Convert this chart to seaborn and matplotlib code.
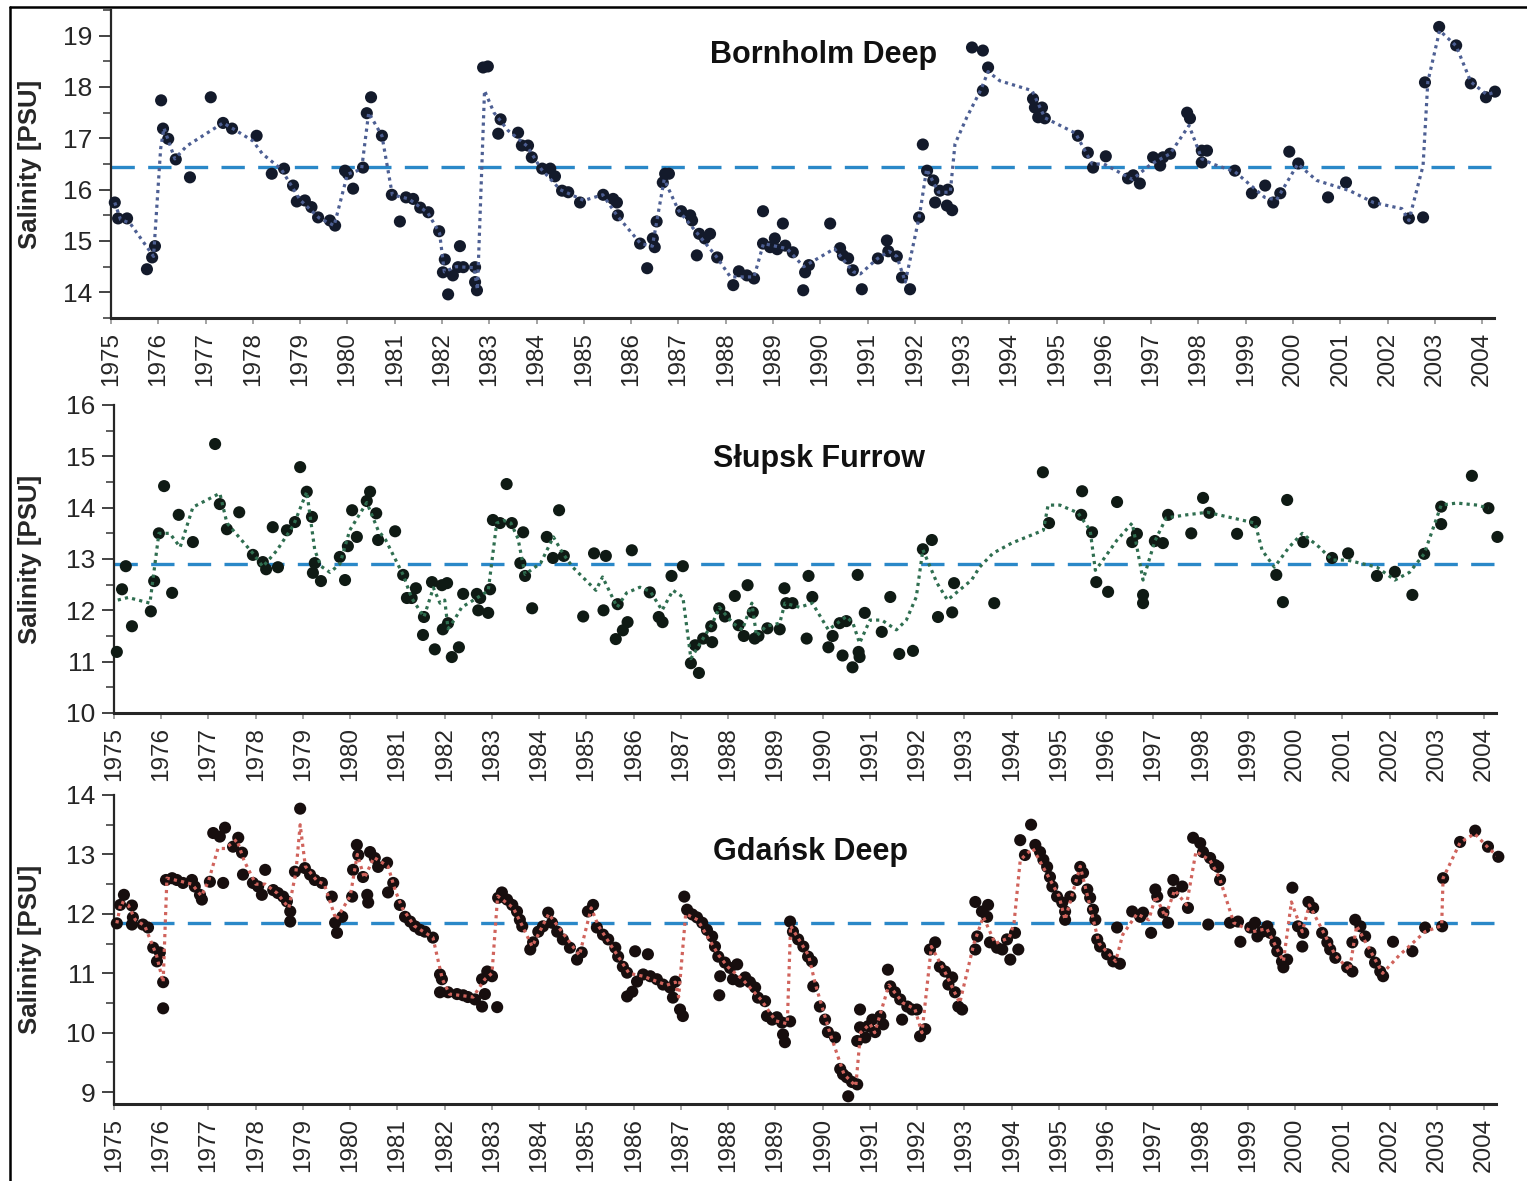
import matplotlib
matplotlib.use("Agg")
import matplotlib.pyplot as plt
import seaborn as sns
import numpy as np
from matplotlib.lines import Line2D
from matplotlib.ticker import MultipleLocator, FixedLocator

sns.set_style("ticks")
plt.rcParams['font.family'] = ['Liberation Sans', 'DejaVu Sans']

# ---------------- data ----------------
years = list(range(1975, 2005))
year_labels = [str(y) for y in years]

# Bornholm Deep
bd_title = "Bornholm Deep"
bd_mean = 16.45
bd_t = [1975.08, 1975.15, 1975.34, 1975.76, 1975.87, 1975.93, 1976.06, 1976.10, 1976.21, 1976.37,
        1976.67, 1977.11, 1977.37, 1977.56, 1978.08, 1978.40, 1978.66, 1978.85, 1978.93, 1979.10,
        1979.24, 1979.38, 1979.63, 1979.74, 1979.95, 1980.01, 1980.12, 1980.33, 1980.41, 1980.50,
        1980.73, 1980.94, 1981.11, 1981.24, 1981.39, 1981.54, 1981.71, 1981.94, 1982.02, 1982.06,
        1982.13, 1982.23, 1982.34, 1982.38, 1982.45, 1982.70, 1982.70, 1982.74, 1982.87, 1982.97,
        1983.19, 1983.24, 1983.61, 1983.69, 1983.82, 1983.90, 1984.12, 1984.29, 1984.39, 1984.54,
        1984.67, 1984.92, 1985.41, 1985.62, 1985.70, 1985.72, 1986.19, 1986.34, 1986.46, 1986.50,
        1986.54, 1986.67, 1986.72, 1986.80, 1987.06, 1987.25, 1987.29, 1987.39, 1987.44, 1987.56,
        1987.67, 1987.82, 1988.16, 1988.28, 1988.45, 1988.60, 1988.79, 1988.79, 1988.94, 1989.04,
        1989.09, 1989.21, 1989.26, 1989.42, 1989.64, 1989.68, 1989.76, 1990.21, 1990.42, 1990.48,
        1990.59, 1990.69, 1990.88, 1991.22, 1991.41, 1991.44, 1991.62, 1991.73, 1991.90, 1992.09,
        1992.17, 1992.26, 1992.39, 1992.43, 1992.53, 1992.68, 1992.70, 1992.79, 1993.21, 1993.44,
        1993.44, 1993.55, 1994.50, 1994.54, 1994.61, 1994.69, 1994.75, 1995.45, 1995.66, 1995.77,
        1996.04, 1996.51, 1996.62, 1996.76, 1997.04, 1997.19, 1997.25, 1997.40, 1997.76, 1997.82,
        1998.07, 1998.07, 1998.18, 1998.77, 1999.13, 1999.41, 1999.58, 1999.73, 1999.92, 2000.11,
        2000.74, 2001.12, 2001.71, 2002.45, 2002.75, 2002.79, 2003.09, 2003.45, 2003.76, 2004.08,
        2004.27]
bd_s = [15.75, 15.44, 15.44, 14.45, 14.68, 14.90, 17.74, 17.19, 16.99, 16.59,
        16.24, 17.80, 17.30, 17.19, 17.05, 16.31, 16.41, 16.08, 15.77, 15.79,
        15.66, 15.46, 15.40, 15.30, 16.37, 16.31, 16.02, 16.43, 17.49, 17.80,
        17.05, 15.90, 15.38, 15.85, 15.82, 15.65, 15.56, 15.19, 14.39, 14.64,
        13.96, 14.33, 14.49, 14.90, 14.49, 14.49, 14.20, 14.04, 18.38, 18.40,
        17.09, 17.37, 17.11, 16.86, 16.86, 16.63, 16.41, 16.41, 16.26, 15.98,
        15.95, 15.75, 15.90, 15.82, 15.75, 15.50, 14.95, 14.47, 15.05, 14.88,
        15.38, 16.14, 16.31, 16.31, 15.58, 15.50, 15.40, 14.72, 15.14, 15.05,
        15.14, 14.68, 14.14, 14.41, 14.33, 14.27, 15.58, 14.95, 14.88, 15.05,
        14.84, 15.34, 14.91, 14.78, 14.04, 14.39, 14.53, 15.34, 14.86, 14.72,
        14.66, 14.43, 14.06, 14.66, 15.01, 14.80, 14.70, 14.29, 14.06, 15.46,
        16.88, 16.37, 16.18, 15.75, 15.98, 15.69, 16.00, 15.60, 18.77, 18.71,
        17.93, 18.38, 17.77, 17.60, 17.41, 17.60, 17.39, 17.05, 16.72, 16.43,
        16.65, 16.22, 16.28, 16.12, 16.63, 16.47, 16.63, 16.70, 17.50, 17.39,
        16.76, 16.53, 16.76, 16.37, 15.93, 16.08, 15.75, 15.93, 16.74, 16.51,
        15.85, 16.14, 15.75, 15.44, 15.46, 18.09, 19.17, 18.81, 18.07, 17.80,
        17.91]
bd_line_t = [1975.08, 1975.20, 1975.40, 1975.90, 1976.05, 1976.12, 1976.35, 1976.60, 1977.37, 1977.56,
             1978.00, 1978.20, 1978.60, 1979.00, 1979.40, 1979.72, 1980.00, 1980.30, 1980.45, 1980.73,
             1980.95, 1981.30, 1981.70, 1981.95, 1982.05, 1982.30, 1982.68, 1982.75, 1982.90, 1983.10,
             1983.40, 1983.80, 1984.10, 1984.50, 1985.00, 1985.40, 1985.70, 1986.20, 1986.45, 1986.70,
             1987.00, 1987.40, 1987.80, 1988.10, 1988.60, 1988.80, 1989.30, 1989.65, 1990.30, 1990.70,
             1990.85, 1991.20, 1991.45, 1991.62, 1991.80, 1992.10, 1992.25, 1992.50, 1992.75, 1992.85,
             1993.10, 1993.40, 1993.55, 1993.80, 1994.48, 1994.75, 1995.40, 1995.75, 1996.00, 1996.60,
             1997.00, 1997.40, 1997.80, 1998.07, 1998.30, 1998.77, 1999.40, 1999.65, 2000.10, 2000.50,
             2001.20, 2001.70, 2002.30, 2002.45, 2002.75, 2002.85, 2003.10, 2003.45, 2003.76, 2004.10,
             2004.27]
bd_line_s = [15.75, 15.42, 15.35, 14.70, 16.80, 17.20, 16.60, 16.85, 17.30, 17.20,
             16.95, 16.70, 16.40, 15.80, 15.45, 15.30, 16.30, 16.40, 17.50, 17.05,
             15.90, 15.82, 15.55, 15.15, 14.40, 14.50, 14.48, 14.05, 17.93, 17.50,
             17.15, 16.85, 16.40, 16.00, 15.79, 15.90, 15.50, 14.95, 14.90, 16.20,
             15.60, 15.15, 14.70, 14.30, 14.30, 14.95, 14.85, 14.50, 14.85, 14.40,
             14.36, 14.65, 14.80, 14.70, 14.20, 15.50, 16.40, 15.95, 15.95, 16.89,
             17.41, 17.95, 18.30, 18.12, 17.93, 17.40, 17.10, 16.50, 16.50, 16.20,
             16.50, 16.70, 17.25, 16.60, 16.50, 16.35, 15.85, 15.80, 16.50, 16.18,
             15.98, 15.75, 15.63, 15.40, 16.47, 18.10, 19.10, 18.80, 18.10, 17.85,
             17.90]

# Slupsk Furrow
sf_title = "Słupsk Furrow"
sf_mean = 12.9
sf_t = [1975.06, 1975.17, 1975.25, 1975.38, 1975.78, 1975.85, 1975.95, 1976.06, 1976.23, 1976.37,
        1976.67, 1977.14, 1977.24, 1977.39, 1977.65, 1977.94, 1978.15, 1978.22, 1978.36, 1978.47,
        1978.66, 1978.83, 1978.94, 1979.08, 1979.19, 1979.21, 1979.25, 1979.38, 1979.78, 1979.89,
        1979.95, 1980.04, 1980.14, 1980.35, 1980.42, 1980.55, 1980.59, 1980.95, 1981.12, 1981.20,
        1981.30, 1981.39, 1981.54, 1981.56, 1981.73, 1981.79, 1981.94, 1981.96, 1982.05, 1982.07,
        1982.15, 1982.30, 1982.39, 1982.68, 1982.71, 1982.75, 1982.92, 1982.96, 1983.02, 1983.17,
        1983.31, 1983.42, 1983.60, 1983.66, 1983.70, 1983.85, 1984.16, 1984.29, 1984.42, 1984.52,
        1984.93, 1985.16, 1985.36, 1985.41, 1985.62, 1985.66, 1985.77, 1985.87, 1985.96, 1986.34,
        1986.53, 1986.61, 1986.80, 1987.04, 1987.21, 1987.30, 1987.38, 1987.47, 1987.64, 1987.66,
        1987.81, 1987.93, 1988.14, 1988.22, 1988.33, 1988.41, 1988.52, 1988.56, 1988.64, 1988.83,
        1989.09, 1989.19, 1989.23, 1989.36, 1989.66, 1989.70, 1989.78, 1990.12, 1990.21, 1990.36,
        1990.42, 1990.50, 1990.63, 1990.74, 1990.76, 1990.78, 1990.89, 1991.25, 1991.43, 1991.62,
        1991.91, 1992.12, 1992.31, 1992.44, 1992.74, 1992.78, 1993.63, 1994.66, 1994.79, 1995.47,
        1995.49, 1995.70, 1995.79, 1996.04, 1996.23, 1996.55, 1996.65, 1996.78, 1996.78, 1997.03,
        1997.20, 1997.31, 1997.80, 1998.05, 1998.18, 1998.77, 1999.15, 1999.60, 1999.74, 1999.83,
        2000.17, 2000.78, 2001.12, 2001.73, 2002.11, 2002.48, 2002.73, 2003.09, 2003.09, 2003.74,
        2004.09, 2004.28]
sf_s = [11.19, 12.41, 12.86, 11.69, 11.98, 12.57, 13.50, 14.42, 12.34, 13.86,
        13.33, 15.24, 14.07, 13.58, 13.91, 13.08, 12.94, 12.80, 13.62, 12.84,
        13.56, 13.72, 14.79, 14.31, 13.82, 12.73, 12.92, 12.57, 13.04, 12.59,
        13.25, 13.95, 13.43, 14.13, 14.31, 13.89, 13.37, 13.54, 12.69, 12.24,
        12.24, 12.43, 11.52, 11.87, 12.55, 11.24, 12.49, 11.63, 12.53, 11.75,
        11.09, 11.28, 12.32, 12.32, 12.00, 12.24, 11.95, 12.41, 13.76, 13.70,
        14.46, 13.70, 12.92, 13.52, 12.67, 12.04, 13.43, 13.02, 13.95, 13.06,
        11.88, 13.11, 12.00, 13.06, 11.44, 12.12, 11.61, 11.77, 13.17, 12.35,
        11.87, 11.77, 12.67, 12.86, 10.97, 11.32, 10.78, 11.45, 11.69, 11.38,
        12.04, 11.88, 12.28, 11.71, 11.50, 12.49, 11.96, 11.45, 11.50, 11.65,
        11.63, 12.43, 12.14, 12.14, 11.45, 12.67, 12.26, 11.28, 11.50, 11.75,
        11.12, 11.79, 10.89, 12.69, 11.19, 11.09, 11.95, 11.58, 12.26, 11.15,
        11.21, 13.19, 13.37, 11.87, 11.96, 12.53, 12.14, 14.69, 13.70, 13.86,
        14.32, 13.52, 12.55, 12.36, 14.11, 13.33, 13.49, 12.30, 12.14, 13.35,
        13.31, 13.86, 13.50, 14.19, 13.90, 13.49, 13.72, 12.69, 12.16, 14.15,
        13.33, 13.02, 13.11, 12.67, 12.75, 12.30, 13.10, 13.68, 14.02, 14.62,
        13.99, 13.43]
sf_line_t = [1975.08, 1975.30, 1975.76, 1975.95, 1976.18, 1976.40, 1976.67, 1977.24, 1977.39, 1977.95,
             1978.15, 1978.45, 1978.80, 1979.08, 1979.25, 1979.38, 1979.57, 1979.78, 1979.99, 1980.35,
             1980.59, 1980.75, 1981.12, 1981.30, 1981.56, 1981.76, 1981.90, 1982.00, 1982.07, 1982.20,
             1982.36, 1982.68, 1982.92, 1983.10, 1983.25, 1983.40, 1983.55, 1983.70, 1984.03, 1984.30,
             1984.50, 1984.71, 1985.20, 1985.34, 1985.65, 1985.85, 1986.13, 1986.35, 1986.60, 1986.83,
             1987.04, 1987.21, 1987.40, 1987.67, 1987.81, 1988.10, 1988.30, 1988.50, 1988.60, 1988.80,
             1989.09, 1989.20, 1989.51, 1989.78, 1990.12, 1990.50, 1990.64, 1990.78, 1991.00, 1991.25,
             1991.56, 1991.77, 1991.98, 1992.12, 1992.24, 1992.42, 1992.64, 1992.89, 1993.15, 1993.32,
             1993.60, 1994.00, 1994.67, 1994.77, 1995.02, 1995.40, 1995.66, 1995.77, 1995.87, 1996.23,
             1996.55, 1996.65, 1996.78, 1997.03, 1997.27, 1997.70, 1998.14, 1998.67, 1999.15, 1999.30,
             1999.56, 1999.87, 2000.15, 2000.51, 2000.78, 2001.10, 2001.73, 2002.11, 2002.42, 2002.73,
             2003.09, 2003.42, 2003.85, 2004.09]
sf_line_s = [12.20, 12.25, 12.14, 13.50, 13.50, 13.23, 14.01, 14.28, 13.70, 13.10,
             12.85, 13.17, 13.66, 14.31, 13.17, 12.86, 12.74, 12.90, 13.56, 14.10,
             13.56, 13.37, 12.69, 12.24, 11.87, 12.44, 12.14, 12.20, 11.64, 11.81,
             12.06, 12.24, 12.38, 13.70, 13.75, 13.70, 13.40, 12.70, 12.92, 13.43,
             13.11, 12.84, 12.39, 12.65, 12.06, 12.34, 12.45, 12.37, 12.00, 12.39,
             12.26, 11.06, 11.35, 11.75, 12.06, 11.75, 11.62, 12.14, 11.50, 11.69,
             11.75, 12.14, 12.06, 12.14, 11.62, 11.88, 11.75, 11.36, 11.81, 11.81,
             11.62, 11.81, 12.26, 13.18, 12.92, 12.53, 12.20, 12.39, 12.59, 12.84,
             13.11, 13.31, 13.56, 14.05, 14.05, 13.90, 13.56, 12.78, 12.90, 13.37,
             13.70, 13.23, 12.59, 13.35, 13.80, 13.86, 13.91, 13.80, 13.70, 13.17,
             12.84, 13.23, 13.50, 13.23, 12.98, 12.98, 12.84, 12.59, 12.74, 13.10,
             14.05, 14.09, 14.05, 13.99]

# Gdansk Deep
gd_title = "Gdańsk Deep"
gd_mean = 11.84
gd_t = [1975.06, 1975.13, 1975.21, 1975.38, 1975.38, 1975.40, 1975.61, 1975.72, 1975.83, 1975.91,
        1975.97, 1976.04, 1976.04, 1976.10, 1976.23, 1976.33, 1976.46, 1976.65, 1976.71, 1976.82,
        1976.86, 1977.03, 1977.10, 1977.24, 1977.31, 1977.35, 1977.52, 1977.63, 1977.71, 1977.73,
        1977.94, 1978.05, 1978.13, 1978.20, 1978.37, 1978.47, 1978.58, 1978.66, 1978.73, 1978.73,
        1978.83, 1978.94, 1979.04, 1979.15, 1979.25, 1979.40, 1979.61, 1979.68, 1979.72, 1979.83,
        1980.04, 1980.06, 1980.14, 1980.17, 1980.27, 1980.36, 1980.38, 1980.42, 1980.52, 1980.59,
        1980.78, 1980.80, 1980.91, 1981.05, 1981.16, 1981.27, 1981.37, 1981.48, 1981.58, 1981.75,
        1981.90, 1981.94, 1981.90, 1982.07, 1982.26, 1982.39, 1982.49, 1982.64, 1982.79, 1982.79,
        1982.85, 1982.90, 1983.00, 1983.11, 1983.13,
        1983.21, 1983.32, 1983.43, 1983.53, 1983.59, 1983.64, 1983.81, 1983.87, 1983.98, 1984.08,
        1984.19, 1984.27, 1984.38, 1984.50, 1984.65, 1984.80, 1984.90, 1985.03, 1985.14, 1985.22,
        1985.35, 1985.46, 1985.61, 1985.67, 1985.77, 1985.86, 1985.86, 1985.97, 1986.03, 1986.30,
        1986.07, 1986.20, 1986.35, 1986.49, 1986.62, 1986.77, 1986.88, 1986.83, 1986.98, 1987.04,
        1987.07, 1987.13, 1987.24, 1987.34, 1987.45, 1987.55, 1987.66, 1987.72, 1987.79, 1987.83,
        1987.81, 1987.93, 1988.04, 1988.19, 1988.10, 1988.25, 1988.36, 1988.46, 1988.57, 1988.63,
        1988.78, 1988.82, 1988.93, 1989.03, 1989.14, 1989.16, 1989.20, 1989.31, 1989.31, 1989.37,
        1989.48, 1989.59, 1989.69, 1989.77, 1989.80, 1989.94, 1990.05, 1990.11, 1990.26, 1990.37,
        1990.43, 1990.51, 1990.62, 1990.73, 1990.54, 1990.73, 1990.79, 1990.79, 1990.90, 1990.96,
        1991.05, 1991.11, 1991.22, 1991.28, 1991.38, 1991.43, 1991.53, 1991.64, 1991.68, 1991.79,
        1991.89, 1991.99, 1992.06, 1992.17, 1992.27, 1992.38, 1992.48, 1992.59, 1992.66, 1992.74,
        1992.80, 1992.87, 1992.95, 1993.23, 1993.27, 1993.23, 1993.37, 1993.48, 1993.50, 1993.54,
        1993.69,
        1993.80, 1993.90, 1993.97, 1994.07, 1994.14, 1994.18, 1994.28, 1994.41, 1994.50, 1994.60,
        1994.67, 1994.75, 1994.81, 1994.86, 1994.96, 1995.07, 1995.13, 1995.13, 1995.24, 1995.38,
        1995.45, 1995.51, 1995.60, 1995.66, 1995.72, 1995.77, 1995.81, 1995.87, 1996.02, 1996.15,
        1996.29, 1996.23, 1996.55, 1996.72, 1996.78, 1996.95, 1997.04, 1997.08, 1997.21, 1997.31,
        1997.42, 1997.42, 1997.61, 1997.73, 1997.84, 1997.99, 1998.05, 1998.16, 1998.20, 1998.31,
        1998.37, 1998.41, 1998.62, 1998.79, 1998.84, 1999.05, 1999.15, 1999.20, 1999.30, 1999.41,
        1999.47, 1999.58, 1999.62, 1999.72, 1999.75, 1999.83, 1999.94, 2000.06, 2000.15, 2000.17,
        2000.28, 2000.38, 2000.57, 2000.68, 2000.74, 2000.85, 2001.10, 2001.21, 2001.21, 2001.27,
        2001.38, 2001.48, 2001.59, 2001.69, 2001.80, 2001.86, 2002.07, 2002.48, 2002.75, 2003.11,
        2003.13, 2003.49, 2003.81, 2004.08, 2004.30]
gd_s = [11.84, 12.15, 12.32, 12.14, 11.82, 11.94, 11.82, 11.77, 11.43, 11.20,
        11.35, 10.85, 10.41, 12.57, 12.60, 12.57, 12.52, 12.57, 12.46, 12.32,
        12.24, 12.54, 13.36, 13.30, 12.52, 13.45, 13.13, 13.28, 13.03, 12.66,
        12.52, 12.46, 12.32, 12.74, 12.40, 12.35, 12.29, 12.21, 12.04, 11.87,
        12.71, 13.77, 12.77, 12.66, 12.57, 12.52, 12.29, 11.85, 11.68, 11.95,
        12.29, 12.74, 13.16, 12.99, 12.62, 12.32, 12.19, 13.04, 12.94, 12.79,
        12.86, 12.36, 12.52, 12.15, 11.95, 11.87, 11.79, 11.73, 11.70, 11.60,
        10.98, 10.90, 10.68, 10.68, 10.65, 10.63, 10.60, 10.56, 10.44, 10.90,
        10.65, 11.03, 10.95, 10.43, 12.27,
        12.36, 12.24, 12.15, 12.04, 11.90, 11.79, 11.40, 11.52, 11.70, 11.79,
        12.02, 11.85, 11.70, 11.57, 11.43, 11.23, 11.35, 12.04, 12.15, 11.77,
        11.65, 11.57, 11.43, 11.28, 11.11, 11.01, 10.61, 10.69, 11.37, 11.32,
        10.86, 10.98, 10.95, 10.90, 10.81, 10.76, 10.86, 10.59, 10.39, 10.28,
        12.29, 12.07, 11.99, 11.94, 11.85, 11.73, 11.62, 11.45, 11.28, 10.95,
        10.63, 11.18, 11.09, 11.15, 10.90, 10.86, 10.93, 10.85, 10.76, 10.59,
        10.53, 10.28, 10.22, 10.26, 10.17, 9.97, 9.84, 10.19, 11.87, 11.70,
        11.57, 11.45, 11.28, 11.20, 10.78, 10.44, 10.22, 10.01, 9.92, 9.39,
        9.30, 9.25, 9.17, 9.13, 8.93, 9.86, 10.39, 10.09, 9.92, 10.11,
        10.22, 10.01, 10.28, 10.14, 11.06, 10.78, 10.68, 10.56, 10.22, 10.44,
        10.39, 10.39, 9.94, 10.06, 11.40, 11.52, 11.11, 11.03, 10.81, 10.93,
        10.68, 10.44, 10.39, 12.20, 11.62, 11.40, 12.04, 11.95, 12.15, 11.52,
        11.43,
        11.40, 11.57, 11.23, 11.68, 11.40, 13.24, 12.99, 13.50, 13.16, 13.04,
        12.91, 12.79, 12.62, 12.46, 12.29, 12.19, 12.04, 11.90, 12.29, 12.57,
        12.79, 12.69, 12.41, 12.27, 12.07, 11.90, 11.57, 11.45, 11.32, 11.20,
        11.16, 11.77, 12.04, 11.95, 12.02, 11.68, 12.41, 12.29, 12.02, 11.85,
        12.36, 12.57, 12.46, 12.10, 13.28, 13.19, 13.04, 11.82, 12.94, 12.82,
        12.79, 12.57, 11.85, 11.87, 11.53, 11.77, 11.85, 11.62, 11.70, 11.79,
        11.68, 11.52, 11.37, 11.20, 11.10, 11.23, 12.44, 11.79, 11.45, 11.68,
        12.20, 12.10, 11.68, 11.52, 11.40, 11.26, 11.10, 11.03, 11.52, 11.90,
        11.79, 11.62, 11.35, 11.18, 11.03, 10.95, 11.53, 11.37, 11.77, 11.79,
        12.60, 13.21, 13.40, 13.13, 12.96]
gd_line_t = [1975.06, 1975.15, 1975.30, 1975.45, 1975.65, 1975.90, 1976.04, 1976.12, 1976.40, 1976.65,
             1976.85, 1977.00, 1977.20, 1977.35, 1977.60, 1977.75, 1978.00, 1978.20, 1978.45, 1978.70,
             1978.85, 1978.94, 1979.05, 1979.30, 1979.45, 1979.70, 1980.00, 1980.15, 1980.30, 1980.50,
             1980.80, 1980.95, 1981.10, 1981.35, 1981.75, 1981.95, 1982.10, 1982.60, 1982.85, 1983.00,
             1983.12, 1983.45, 1983.64, 1983.85, 1984.20, 1984.85, 1985.10, 1985.25, 1985.90, 1986.20,
             1986.70, 1986.88, 1986.95, 1987.10, 1987.35, 1987.80, 1988.00, 1988.30, 1988.70, 1989.00,
             1989.25, 1989.32, 1989.70, 1989.85, 1990.15, 1990.45, 1990.70, 1990.80, 1991.00, 1991.10,
             1991.40, 1991.70, 1991.95, 1992.10, 1992.30, 1992.60, 1992.90, 1993.20, 1993.40, 1993.65,
             1993.95, 1994.05, 1994.18, 1994.30, 1994.45, 1995.00, 1995.13, 1995.45, 1995.85, 1996.20,
             1996.35, 1996.65, 1996.90, 1997.05, 1997.25, 1997.45, 1997.70, 1997.90, 1998.20, 1998.40,
             1998.70, 1999.10, 1999.40, 1999.75, 1999.92, 2000.15, 2000.30, 2000.85, 2001.15, 2001.30,
             2001.85, 2002.20, 2002.75, 2003.10, 2003.13, 2003.49, 2003.80, 2004.10, 2004.30]
gd_line_s = [11.84, 12.20, 12.15, 11.90, 11.80, 11.30, 10.85, 12.60, 12.55, 12.50,
             12.30, 12.55, 13.10, 13.10, 13.25, 12.90, 12.50, 12.50, 12.35, 12.10,
             12.70, 13.50, 12.80, 12.55, 12.50, 11.90, 12.30, 13.00, 12.60, 12.95,
             12.80, 12.40, 12.10, 11.80, 11.60, 10.90, 10.65, 10.60, 10.90, 11.00,
             12.30, 12.10, 11.80, 11.45, 12.00, 11.30, 12.10, 11.80, 11.00, 10.95,
             10.80, 10.85, 10.60, 12.00, 11.90, 11.30, 11.10, 10.90, 10.55, 10.20,
             10.15, 11.80, 11.30, 10.80, 10.00, 9.30, 9.10, 10.00, 10.15, 10.00,
             10.80, 10.50, 10.40, 10.00, 11.45, 11.00, 10.50, 11.50, 11.95, 11.50,
             11.60, 11.85, 12.90, 13.00, 13.10, 12.30, 11.90, 12.80, 11.50, 11.20,
             11.65, 12.00, 11.90, 12.30, 11.95, 12.40, 12.15, 13.05, 12.90, 12.60,
             11.85, 11.70, 11.75, 11.20, 12.20, 11.70, 12.15, 11.30, 11.05, 11.80,
             11.00, 11.30, 11.70, 11.80, 12.60, 13.20, 13.35, 13.10, 12.96]

# ---------------- figure ----------------
W, H = 1527, 1181
fig = plt.figure(figsize=(W / 100, H / 100), dpi=100)
fig.patch.set_facecolor("white")

panels = [
    dict(title=bd_title, t=bd_t, s=bd_s, lt=bd_line_t, ls=bd_line_s, mean=bd_mean,
         ylim=(13.5, 19.5), yticks=list(range(14, 20)), title_y=18.47,
         rect=(111 / W, 1 - 318 / H, 1383 / W, 308 / H),
         pcolor="#131a2b", lcolor="#4d5f93"),
    dict(title=sf_title, t=sf_t, s=sf_s, lt=sf_line_t, ls=sf_line_s, mean=sf_mean,
         ylim=(10, 16), yticks=list(range(10, 17)), title_y=14.79,
         rect=(114 / W, 1 - 713 / H, 1382 / W, 308 / H),
         pcolor="#0f1a14", lcolor="#2f6e50"),
    dict(title=gd_title, t=gd_t, s=gd_s, lt=gd_line_t, ls=gd_line_s, mean=gd_mean,
         ylim=(8.8, 14), yticks=list(range(9, 15)), title_y=12.91,
         rect=(114 / W, 1 - 1104 / H, 1382 / W, 309 / H),
         pcolor="#170e0e", lcolor="#d0635c"),
]

for p in panels:
    ax = fig.add_axes(p["rect"])
    ax.set_facecolor("white")
    ax.axhline(p["mean"], color="#2a88c8", lw=2.4, dashes=(7, 4), zorder=2)
    sns.scatterplot(x=p["t"], y=p["s"], ax=ax, s=76, color=p["pcolor"],
                    edgecolor="none", linewidth=0, zorder=3, clip_on=False)
    sns.lineplot(x=p["lt"], y=p["ls"], ax=ax, estimator=None, sort=False,
                 color=p["lcolor"], lw=2.3, zorder=4)
    ax.lines[-1].set_linestyle((0, (1, 1.3)))
    ax.set_xlim(1975, 2004.25)
    ax.set_ylim(*p["ylim"])
    ax.xaxis.set_major_locator(FixedLocator(years))
    ax.set_xticklabels(year_labels, rotation=90)
    ax.yaxis.set_major_locator(FixedLocator(p["yticks"]))
    ax.yaxis.set_minor_locator(MultipleLocator(0.5))
    for sp in ("top", "right"):
        ax.spines[sp].set_visible(False)
    ax.spines["left"].set_linewidth(1.6)
    ax.spines["bottom"].set_linewidth(2.2)
    ax.tick_params(axis="y", which="major", direction="out", length=8.5, width=1.2,
                   labelsize=19, pad=5, color="#222222")
    ax.tick_params(axis="y", which="minor", direction="out", length=6, width=1.1,
                   color="#333333")
    ax.tick_params(axis="x", which="major", direction="out", length=4, width=1.1,
                   labelsize=17.5, pad=6, color="#8a8a8a")
    ax.set_xlabel("")
    ax.set_ylabel("Salinity [PSU]", fontsize=18.5, fontweight="bold")
    lx = (42 - p["rect"][0] * W) / (p["rect"][2] * W)
    ax.yaxis.set_label_coords(lx, 0.5)
    ax.text(1987.67, p["title_y"], p["title"], fontsize=22, fontweight="bold",
            ha="left", va="baseline", color="#111111", zorder=5)

# outer frame (top and left edges visible in the reference)
fig.add_artist(Line2D([10 / W, 1.0], [1 - 7 / H, 1 - 7 / H], transform=fig.transFigure,
                      color="black", lw=1.8))
fig.add_artist(Line2D([10 / W, 10 / W], [0.0, 1 - 7 / H], transform=fig.transFigure,
                      color="black", lw=1.8))

fig.savefig("out.png", dpi=100, facecolor="white")
